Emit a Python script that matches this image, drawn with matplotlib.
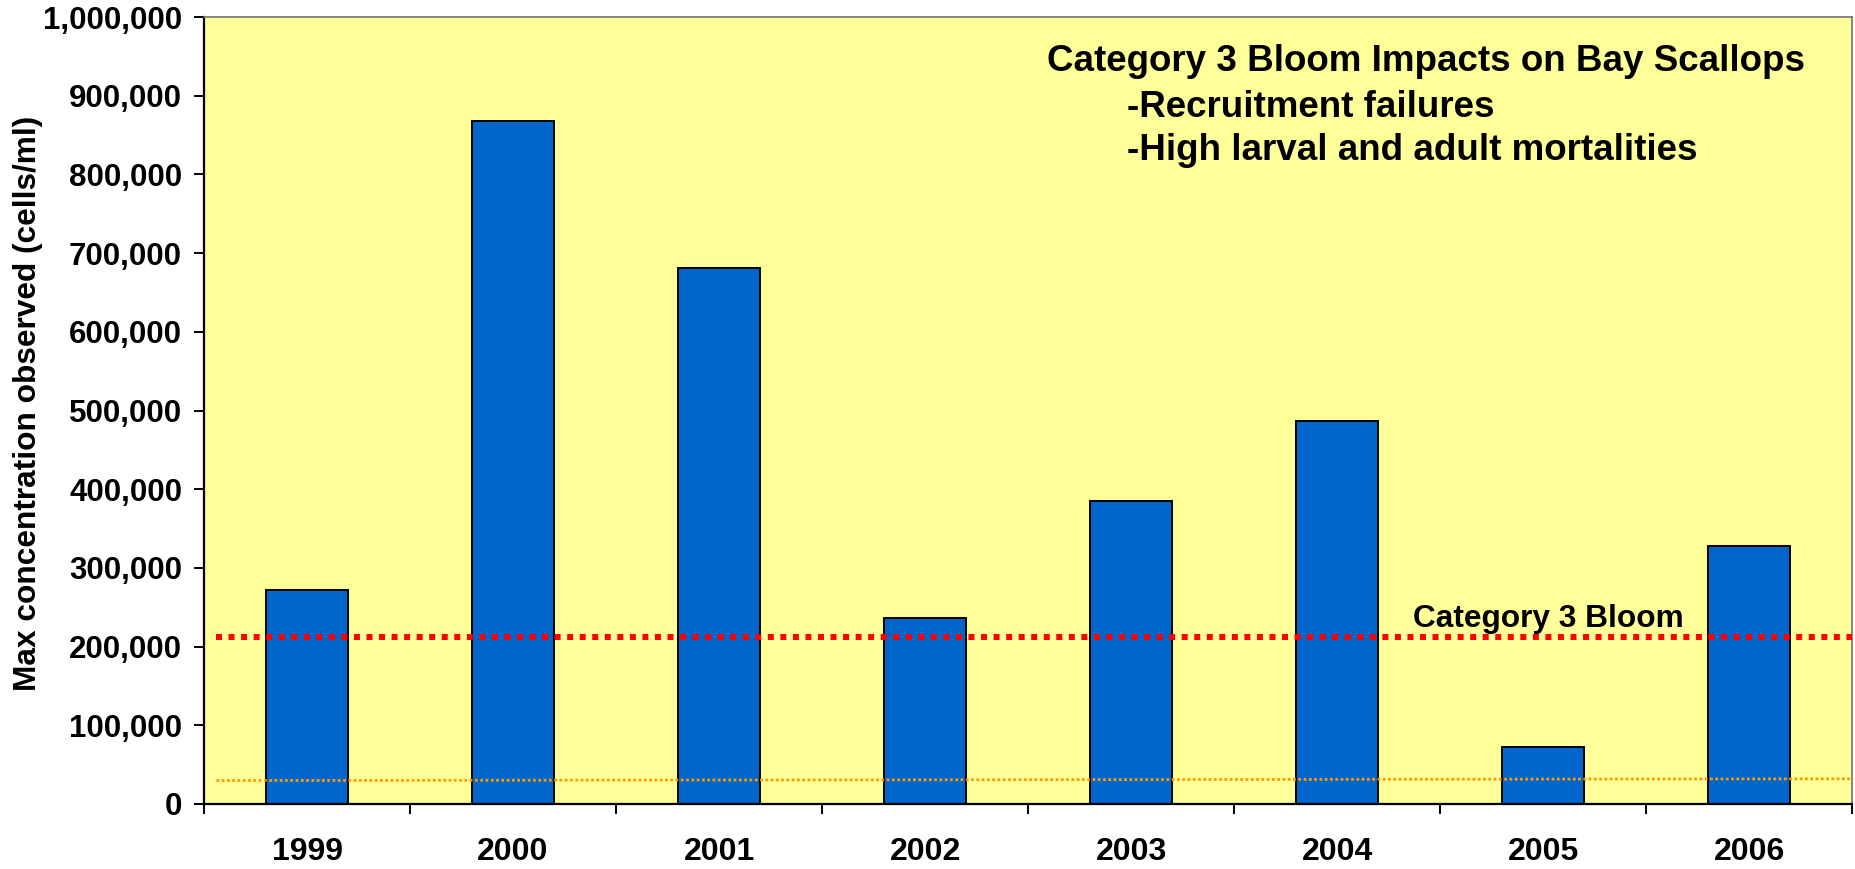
import matplotlib
matplotlib.use("Agg")
import matplotlib.pyplot as plt
from matplotlib.ticker import FuncFormatter, MultipleLocator

plt.rcParams['font.family'] = ['Liberation Sans', 'DejaVu Sans']
plt.rcParams['font.weight'] = 'bold'

# --- Data ---
years = ['1999', '2000', '2001', '2002', '2003', '2004', '2005', '2006']
max_cells = [272000, 868000, 681000, 236000, 385000, 487000, 72000, 328000]

bloom_level = 212000          # category 3 bloom threshold (cells/ml)
baseline_x = [-0.44, 7.5]     # faint reference line across the chart
baseline_y = [29800, 32000]

notes = ['Category 3 Bloom Impacts on Bay Scallops',
         '-Recruitment failures',
         '-High larval and adult mortalities']

# --- Figure ---
fig = plt.figure(figsize=(18.55, 8.69), dpi=100)
ax = fig.add_axes([0.110, 0.0748, 0.8884, 0.9056])
ax.set_facecolor('#FFFF99')

x = list(range(len(years)))
ax.bar(x, max_cells, width=0.40, color='#0066CC', edgecolor='black',
       linewidth=1.4, zorder=2)

# threshold line (red) and low reference line (orange)
ax.plot([baseline_x[0], baseline_x[1]], [bloom_level, bloom_level],
        color='#FF0000', linewidth=4.3, linestyle=(0, (1, 1.1)),
        dash_capstyle='butt', zorder=3)
ax.plot(baseline_x, baseline_y, color='#FF9900', linewidth=2.0,
        linestyle=(0, (1, 0.9)), dash_capstyle='butt', zorder=3)

ax.text(0.816, 0.225, 'Category 3 Bloom', transform=ax.transAxes,
        ha='center', va='baseline', fontsize=22.8, fontweight='bold')

# annotation block in the upper right
ax.text(0.5115, 0.9314, notes[0], transform=ax.transAxes, ha='left',
        va='baseline', fontsize=26.5, fontweight='bold')
ax.text(0.560, 0.8729, notes[1], transform=ax.transAxes, ha='left',
        va='baseline', fontsize=26.5, fontweight='bold')
ax.text(0.560, 0.8177, notes[2], transform=ax.transAxes, ha='left',
        va='baseline', fontsize=26.5, fontweight='bold')

# --- Axes ---
ax.set_xlim(-0.5, 7.5)
ax.set_ylim(0, 1000000)
ax.yaxis.set_major_locator(MultipleLocator(100000))
ax.yaxis.set_major_formatter(FuncFormatter(lambda v, p: f'{int(v):,}'))
ax.tick_params(axis='y', direction='out', length=7.2, width=1.4,
               pad=8.6, labelsize=22.5)

# boundary ticks without labels, year labels centred under each bar
ax.set_xticks([i - 0.5 for i in range(len(years) + 1)])
ax.set_xticklabels([])
ax.set_xticks(x, minor=True)
ax.set_xticklabels(years, minor=True, fontsize=23, fontweight='bold')
ax.tick_params(axis='x', which='major', direction='out', length=7.2, width=1.4)
ax.tick_params(axis='x', which='minor', length=0, pad=23.5)

ax.set_ylabel('Max concentration observed (cells/ml)', fontsize=22.8,
              fontweight='bold')
ax.yaxis.set_label_coords(-0.0977, 0.509)

for side in ['left', 'bottom']:
    ax.spines[side].set_linewidth(1.6)
    ax.spines[side].set_color('black')
for side in ['top', 'right']:
    ax.spines[side].set_linewidth(1.2)
    ax.spines[side].set_color('#707070')

plt.savefig('out.png', dpi=100)
